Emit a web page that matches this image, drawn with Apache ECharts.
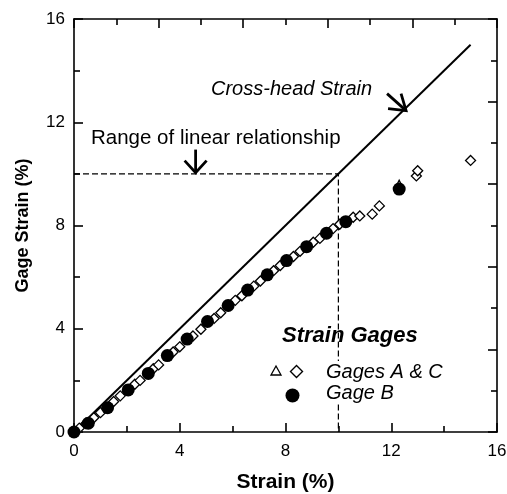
<!DOCTYPE html>
<html>
<head>
<meta charset="utf-8">
<script src="https://cdn.jsdelivr.net/npm/echarts@6/dist/echarts.min.js"></script>
<style>
html,body{margin:0;padding:0;background:#fff;}
#c{width:507px;height:494px;}
</style>
</head>
<body>
<div id="c"></div>
<script>
// ---- data ----
var xTicks = [0, 4, 8, 12, 16];
var yTicks = [0, 4, 8, 12, 16];
var crossHead = [[0, 0], [15, 15]];
var linearRange = [[0, 10], [10, 10], [10, 0]];
var gagesAC = [
  [0.2,0.15],[0.45,0.33],[0.75,0.55],[1.0,0.75],[1.5,1.18],[1.75,1.4],
  [2.3,1.85],[2.5,2.0],[3.0,2.45],[3.2,2.6],[3.75,3.1],[4.0,3.3],
  [4.5,3.72],[4.8,3.98],[5.3,4.4],[5.55,4.62],[6.1,5.1],[6.35,5.28],
  [6.8,5.65],[7.05,5.85],[7.55,6.25],[7.8,6.45],[8.3,6.8],[8.55,7.0],
  [9.05,7.35],[9.3,7.5],[9.8,7.88],[10.05,8.05],[10.56,8.32],[10.81,8.37],
  [11.28,8.44],[11.55,8.76],[12.95,9.92],[13.0,10.12],[15.0,10.52]
];
var gagesACtri = [[12.3,9.58]];
var gageB = [
  [0,0],[0.54,0.34],[1.27,0.94],[2.05,1.63],[2.81,2.27],[3.53,2.96],
  [4.28,3.60],[5.05,4.28],[5.83,4.90],[6.57,5.50],[7.31,6.09],[8.04,6.64],
  [8.80,7.18],[9.55,7.70],[10.28,8.15],[12.3,9.41]
];
var arrowTips = [[4.6,10.05,'down'],[12.56,12.45,'diag']];

var FONT = '"Liberation Sans", Arial, sans-serif';
var chart = echarts.init(document.getElementById('c'));

function axisCommon(show, pos, max, interval){
  return {
    type:'value', position:pos, min:0, max:max, interval:interval,
    axisLine:{show:true, onZero:false, lineStyle:{color:'#000', width:1.6}},
    axisTick:{show:true, inside:true, length:9, lineStyle:{color:'#000', width:1.6}},
    minorTick:{show:true, splitNumber:2, length:6, lineStyle:{color:'#000', width:1.6}},
    splitLine:{show:false}, minorSplitLine:{show:false},
    axisLabel:{show:show, color:'#000', fontSize:17, fontFamily:FONT}
  };
}

var xB = axisCommon(true,'bottom',16,4);
xB.axisLabel.margin = 11;
xB.name = 'Strain (%)'; xB.nameLocation='middle'; xB.nameGap=40;
xB.nameTextStyle = {fontSize:21, fontWeight:'bold', color:'#000', fontFamily:FONT};
var xT = axisCommon(false,'top',10,2);
var yL = axisCommon(true,'left',16,4);
yL.axisLabel.margin = 9;
yL.name = 'Gage Strain (%)'; yL.nameLocation='middle'; yL.nameGap=42;
yL.nameTextStyle = {fontSize:18, fontWeight:'bold', color:'#000', fontFamily:FONT};
var yR = axisCommon(false,'right',10,2);

chart.setOption({
  animation:false,
  backgroundColor:'#fff',
  grid:{left:74, top:19, width:423, height:413, containLabel:false, outerBoundsMode:'none'},
  xAxis:[xB, xT],
  yAxis:[yL, yR],
  series:[
    {type:'line', data:crossHead, symbol:'none', lineStyle:{color:'#000', width:2}, z:2},
    {type:'line', data:linearRange, symbol:'none', lineStyle:{color:'#000', width:1.2, type:[6,3]}, z:2},
    {type:'scatter', data:gagesAC, symbol:'diamond', symbolSize:10,
      itemStyle:{color:'#fff', borderColor:'#000', borderWidth:1.3, opacity:1}, z:3},
    {type:'scatter', data:gagesACtri, symbol:'triangle', symbolSize:9,
      itemStyle:{color:'#fff', borderColor:'#000', borderWidth:1.3, opacity:1}, z:3},
    {type:'scatter', data:gageB, symbol:'circle', symbolSize:13,
      itemStyle:{color:'#000', borderColor:'#000', borderWidth:0, opacity:1}, z:4},
    {type:'custom', data:arrowTips, z:5, silent:true,
      renderItem:function(params, api){
        var p = api.coord([api.value(0), api.value(1)]);
        var kind = arrowTips[params.dataIndex][2];
        var pts;
        if(kind==='down'){
          pts = [[[p[0],p[1]-23],[p[0],p[1]]],[[p[0]-11,p[1]-12],[p[0],p[1]],[p[0]+11,p[1]-12]]];
        } else {
          pts = [[[p[0]-19,p[1]-17],[p[0],p[1]]],[[p[0]-18,p[1]-2],[p[0],p[1]],[p[0]-5,p[1]-17]]];
        }
        return {type:'group', children: pts.map(function(pp){
          return {type:'polyline', shape:{points:pp}, style:{stroke:'#000', lineWidth:2.8, fill:null}};
        })};
      }
    }
  ],
  graphic:[
    {type:'rect', shape:{x:322, y:361, width:126, height:42}, style:{fill:'#fff'}, z:50},
    {type:'text', left:211, top:79, z:60, style:{text:'Cross-head Strain', font:'italic 20px '+FONT, fill:'#000'}},
    {type:'text', left:91, top:128, z:60, style:{text:'Range of linear relationship', font:'20.5px '+FONT, fill:'#000'}},
    {type:'text', left:282, top:325, z:60, style:{text:'Strain Gages', font:'italic bold 22px '+FONT, fill:'#000'}},
    {type:'text', left:326, top:362, z:60, style:{text:'Gages A & C', font:'italic 20px '+FONT, fill:'#000'}},
    {type:'text', left:326, top:383, z:60, style:{text:'Gage B', font:'italic 20px '+FONT, fill:'#000'}},
    {type:'polygon', z:60, shape:{points:[[276,366],[281,375],[271,375]]}, style:{fill:'#fff', stroke:'#000', lineWidth:1.3}},
    {type:'polygon', z:60, shape:{points:[[296.5,365.5],[302.5,371.5],[296.5,377.5],[290.5,371.5]]}, style:{fill:'#fff', stroke:'#000', lineWidth:1.4}},
    {type:'circle', z:60, shape:{cx:292.5, cy:395.5, r:7}, style:{fill:'#000'}}
  ]
});
</script>
</body>
</html>
